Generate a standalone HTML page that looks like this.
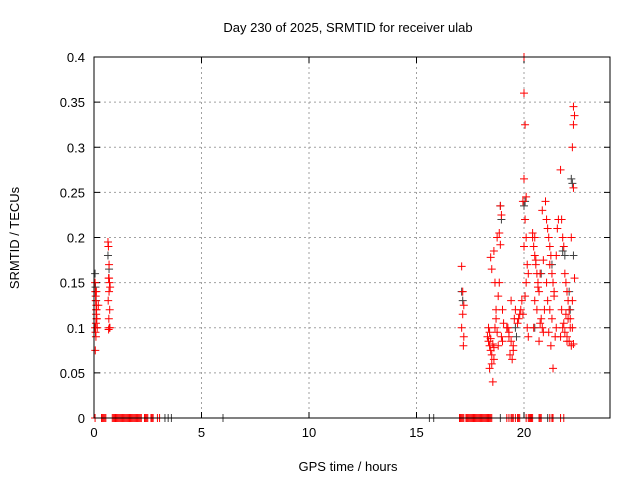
<!DOCTYPE html>
<html><head><meta charset="utf-8"><style>
body{margin:0;background:#fff;}
svg{display:block;font-family:"Liberation Sans",sans-serif;}
</style></head><body>
<svg id="chart" width="640" height="480">
<text x="348" y="32" text-anchor="middle" font-size="13">Day 230 of 2025, SRMTID for receiver ulab</text>
<text x="348" y="471" text-anchor="middle" font-size="13">GPS time / hours</text>
<text transform="translate(19,238) rotate(-90)" text-anchor="middle" font-size="13">SRMTID / TECUs</text>
<g id="grid"></g><g id="ticks"></g><g id="gray"></g><g id="red"></g><g id="frame"></g>
</svg>
<script>
const xTicks=[0,5,10,15,20];
const yTicks=[0,0.05,0.1,0.15,0.2,0.25,0.3,0.35,0.4];
const yTickLabels=["0","0.05","0.1","0.15","0.2","0.25","0.3","0.35","0.4"];
const redHours=[0.05,0.06,0.08,0.1,0.12,0.05,0.07,0.09,0.11,0.1,0.08,0.13,0.06,0.15,0.12,0.2,0.09,0.11,0.65,0.67,0.7,0.68,0.72,0.75,0.7,0.66,0.73,0.69,0.71,0.68,0.74,0.7,
17.1,17.15,17.2,17.15,17.1,17.2,17.18,
18.3,18.35,18.4,18.45,18.5,18.35,18.4,18.45,18.55,18.6,18.65,18.7,18.75,18.5,18.6,18.4,18.55,18.7,18.8,18.65,18.5,18.45,18.6,18.75,18.85,18.9,18.95,18.9,18.85,19.0,19.05,18.95,19.0,18.8,
19.2,19.3,19.4,19.5,19.35,19.45,19.25,19.55,19.6,19.4,19.3,19.5,19.7,19.75,19.8,19.85,
19.9,20.0,20.0,20.05,20.0,20.1,19.95,20.05,20.1,20.0,20.15,20.2,20.1,20.05,19.95,20.15,20.2,
20.4,20.45,20.5,20.55,20.6,20.65,20.7,20.5,20.6,20.8,20.75,20.85,20.9,20.95,20.7,20.5,20.4,20.55,20.65,20.85,20.9,20.45,20.75,
21.0,21.05,21.1,21.15,21.2,21.25,21.3,21.35,21.4,21.1,21.2,21.3,21.5,21.45,21.25,21.15,21.35,21.05,21.4,21.5,21.55,21.6,21.2,
21.7,21.75,21.8,21.85,21.9,21.95,22.0,22.05,22.1,22.15,21.8,21.9,22.0,22.1,22.2,22.25,22.3,22.35,22.3,22.25,22.3,22.2,22.35,21.75,21.85,21.95,22.05,22.15,22.25,21.7,22.0,22.3];
const redValues=[0.15,0.14,0.13,0.12,0.11,0.1,0.095,0.105,0.125,0.115,0.135,0.11,0.075,0.1,0.12,0.125,0.09,0.14,0.195,0.19,0.17,0.155,0.15,0.145,0.14,0.13,0.12,0.11,0.1,0.098,0.1,0.155,
0.168,0.14,0.125,0.115,0.1,0.09,0.08,
0.09,0.085,0.08,0.075,0.07,0.1,0.095,0.088,0.082,0.078,0.1,0.11,0.095,0.06,0.065,0.055,0.04,0.12,0.135,0.15,0.165,0.178,0.185,0.2,0.205,0.235,0.225,0.192,0.15,0.12,0.105,0.09,0.085,0.08,
0.1,0.09,0.085,0.08,0.07,0.065,0.1,0.11,0.12,0.13,0.095,0.075,0.105,0.11,0.115,0.12,
0.13,0.4,0.36,0.325,0.265,0.245,0.24,0.22,0.2,0.19,0.17,0.16,0.15,0.135,0.115,0.1,0.09,
0.2,0.19,0.18,0.17,0.16,0.15,0.14,0.13,0.12,0.11,0.105,0.1,0.095,0.12,0.085,0.2,0.205,0.175,0.145,0.23,0.175,0.1,0.16,
0.24,0.22,0.21,0.2,0.19,0.18,0.16,0.15,0.14,0.13,0.12,0.11,0.1,0.09,0.08,0.095,0.055,0.15,0.135,0.18,0.21,0.22,0.17,
0.275,0.22,0.2,0.19,0.16,0.15,0.14,0.13,0.12,0.11,0.1,0.095,0.09,0.085,0.08,0.1,0.345,0.335,0.325,0.3,0.255,0.2,0.155,0.12,0.105,0.115,0.11,0.1,0.13,0.09,0.085,0.082];
const grayHours=[0.05,0.07,0.1,0.65,0.7,17.1,17.15,18.9,18.95,19.6,19.65,20.0,20.05,20.5,20.8,21.3,21.8,21.9,22.1,22.2,22.25,22.3,22.15];
const grayValues=[0.16,0.145,0.13,0.18,0.165,0.14,0.13,0.235,0.22,0.1,0.09,0.235,0.24,0.1,0.16,0.17,0.185,0.18,0.14,0.265,0.26,0.18,0.12];
const zeroRedHours=[0.05,0.35,0.4,0.45,0.5,0.55,0.85,0.9,0.95,1.0,1.05,1.1,1.15,1.2,1.25,1.3,1.35,1.4,1.45,1.5,1.55,1.6,1.65,1.7,1.75,1.8,1.85,1.9,1.95,2.0,2.05,2.1,2.15,2.2,2.35,2.4,2.45,2.5,2.65,2.7,2.75,2.95,3.05,
17.0,17.05,17.1,17.15,17.2,17.3,17.35,17.4,17.45,17.5,17.55,17.6,17.65,17.7,17.75,17.8,17.85,17.9,17.95,18.0,18.05,18.1,18.15,18.2,18.25,18.3,18.35,18.4,18.45,18.5,
19.2,19.3,19.4,19.45,19.5,19.6,19.7,19.75,19.8,20.1,20.2,20.25,20.3,20.35,20.4,20.7,20.75,20.8,21.2,21.3,21.35,21.7,21.85];
const zeroGrayHours=[3.3,3.45,3.6,6.0,15.6,15.8,18.9,21.1];
const ns="http://www.w3.org/2000/svg";
const X0=94,X1=610,Y0=418,Y1=57,XMAX=24,YMAX=0.4;
function xs(h){return X0+(X1-X0)*h/XMAX;}
function ys(v){return Y0-(Y0-Y1)*v/YMAX;}
function mk(tag,attrs,parent){const e=document.createElementNS(ns,tag);for(const k in attrs)e.setAttribute(k,attrs[k]);parent.appendChild(e);return e;}
const grid=document.getElementById('grid'),ticks=document.getElementById('ticks');
xTicks.forEach((t,i)=>{
  const x=xs(t);
  if(t>0){const g=mk('line',{x1:x,x2:x,y1:Y1,y2:Y0,stroke:'#a0a0a0','stroke-dasharray':'2,3'},grid);
  
  }
  mk('line',{x1:x,x2:x,y1:Y0,y2:Y0-6,stroke:'#000'},ticks);mk('line',{x1:x,x2:x,y1:Y1,y2:Y1+6,stroke:'#000'},ticks);
  const tx=mk('text',{x:x,y:Y0+19,'text-anchor':'middle','font-size':'13'},ticks);tx.textContent=String(t);
  
  
});
yTicks.forEach((t,i)=>{
  const y=ys(t);
  if(t>0&&t<YMAX){const g=mk('line',{x1:X0,x2:X1,y1:y,y2:y,stroke:'#a0a0a0','stroke-dasharray':'2,3'},grid);
  
  }
  mk('line',{x1:X0,x2:X0+6,y1:y,y2:y,stroke:'#000'},ticks);mk('line',{x1:X1,x2:X1-6,y1:y,y2:y,stroke:'#000'},ticks);
  const tx=mk('text',{x:X0-9,y:y+5,'text-anchor':'end','font-size':'13'},ticks);tx.textContent=yTickLabels[i];
  
  
});
function plus(g,h,v,col,name){
  const x=xs(h),y=ys(v);
  const p=mk('path',{d:`M${x-4},${y}H${x+4}M${x},${y-4}V${y+4}`,stroke:col,'stroke-width':1,fill:'none'},g);
  
  
}
const gg=document.getElementById('gray'),rg=document.getElementById('red');
grayHours.forEach((h,i)=>plus(gg,h,grayValues[i],'#404040','gray-point'));
zeroGrayHours.forEach(h=>plus(gg,h,0,'#404040','gray-zero-point'));
redHours.forEach((h,i)=>plus(rg,h,redValues[i],'#ff0000','red-point'));
zeroRedHours.forEach(h=>plus(rg,h,0,'#ff0000','red-zero-point'));
const fr=mk('rect',{x:X0,y:Y1,width:X1-X0,height:Y0-Y1,fill:'none',stroke:'#000'},document.getElementById('frame'));


</script>
</body></html>
